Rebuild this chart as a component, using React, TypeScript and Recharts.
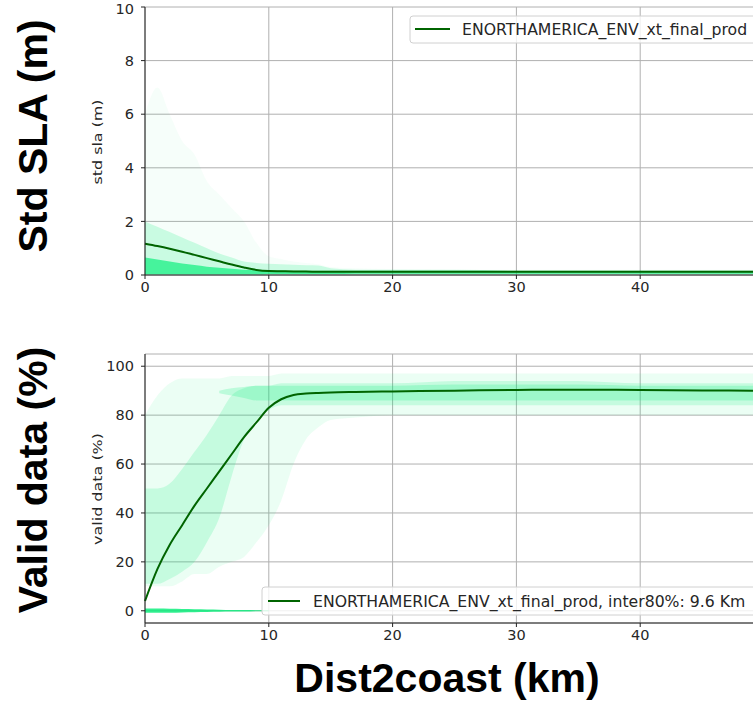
import { ComposedChart, Area, Line, XAxis, YAxis, CartesianGrid } from "recharts"

// distance to coast (km)
const dist = [0, 1, 2, 3, 4, 5, 6, 7, 8, 9, 10, 11, 12, 13, 14, 15, 17, 20, 25, 30, 35, 40, 45, 50]

// std sla (m)
const stdMean = [1.17, 1.08, 0.98, 0.87, 0.75, 0.63, 0.51, 0.39, 0.28, 0.19, 0.15, 0.14, 0.13, 0.13, 0.12, 0.12, 0.12, 0.12, 0.12, 0.12, 0.12, 0.12, 0.12, 0.12]
const stdCoreLow = [0.03, 0.03, 0.03, 0.03, 0.03, 0.03, 0.03, 0.03, 0.03, 0.03, 0.04, 0.04, 0.04, 0.04, 0.04, 0.04, 0.05, 0.05, 0.05, 0.05, 0.05, 0.05, 0.05, 0.05]
const stdCoreHigh = [0.65, 0.58, 0.5, 0.43, 0.37, 0.31, 0.27, 0.23, 0.2, 0.18, 0.17, 0.17, 0.16, 0.16, 0.16, 0.16, 0.16, 0.16, 0.16, 0.15, 0.15, 0.15, 0.15, 0.15]
const stdSpreadLow = [0, 0, 0, 0, 0, 0, 0, 0, 0, 0, 0.01, 0.01, 0.01, 0.01, 0.01, 0.02, 0.02, 0.02, 0.02, 0.02, 0.02, 0.02, 0.02, 0.02]
const stdSpreadHigh = [2.0, 1.8, 1.6, 1.4, 1.2, 1.0, 0.8, 0.65, 0.5, 0.45, 0.42, 0.4, 0.38, 0.36, 0.35, 0.25, 0.2, 0.2, 0.2, 0.18, 0.18, 0.18, 0.18, 0.18]
const stdOutlierHigh = [6, 7, 6, 5, 4.5, 3.5, 3, 2.5, 2, 1.2, 0.7, 0.6, 0.5, 0.45, 0.4, 0.3, 0.25, 0.22, 0.2, 0.2, 0.2, 0.2, 0.2, 0.2]

// valid data (%)
const validMean = [4, 17, 27, 35, 43, 50, 57, 64, 71, 77, 83, 86.5, 88.2, 88.8, 89.1, 89.3, 89.5, 89.7, 90, 90.3, 90.4, 90.3, 90.1, 90]
const validCoreLow = [11, 11, 13, 16, 20, 28, 38, 55, 70, 78, 82, 84, 84, 84, 84, 84, 84, 84, 84, 84, 84, 84, 84, 84]
const validCoreHigh = [50, 50, 52, 58, 65, 72, 80, 88, 91, 92, 92, 93, 93, 93, 93, 93, 93, 93, 94, 94, 94, 93, 93, 93]
const validDenseLow = [null, null, null, null, null, null, 89, 88, 87, 86, 86, 86, 86, 86, 86, 86, 86, 86, 86, 86, 86, 86, 86, 86]
const validDenseHigh = [null, null, null, null, null, null, 90, 91, 91.5, 92, 92, 92, 92, 92, 92, 92, 92, 92, 92.5, 92.5, 92.5, 92, 92, 92]
const validSpreadLow = [10, 10, 10, 12, 15, 15, 18, 20, 22, 28, 35, 45, 60, 70, 75, 78, 79, 80, 80, 80, 80, 80, 80, 80]
const validSpreadHigh = [80, 88, 93, 95, 95, 95, 95, 96, 96, 96, 96, 97, 97, 97, 97, 97, 97, 97, 97, 97, 97, 97, 97, 97]
const validZeroLow = [-0.8, -0.8, -0.8, -0.7, -0.6, -0.5, -0.4, -0.3, -0.3, -0.2, -0.2, null, null, null, null, null, null, null, null, null, null, null, null, null]
const validZeroHigh = [0.9, 0.9, 0.8, 0.7, 0.6, 0.5, 0.4, 0.3, 0.3, 0.2, 0.2, null, null, null, null, null, null, null, null, null, null, null, null, null]

const xTicks = [0, 10, 20, 30, 40]
const stdTicks = [0, 2, 4, 6, 8, 10]
const validTicks = [0, 20, 40, 60, 80, 100]

const legendTop = "ENORTHAMERICA_ENV_xt_final_prod"
const legendBottom = "ENORTHAMERICA_ENV_xt_final_prod, inter80%: 9.6 Km"

const pair = (lo: number | null, hi: number | null) => (lo == null || hi == null ? null : [lo, hi])

const topData = dist.map((x, i) => ({
  x,
  mean: stdMean[i],
  core: [stdCoreLow[i], stdCoreHigh[i]],
  spread: [stdSpreadLow[i], stdSpreadHigh[i]],
  outlier: [0, stdOutlierHigh[i]],
}))

const bottomData = dist.map((x, i) => ({
  x,
  mean: validMean[i],
  core: [validCoreLow[i], validCoreHigh[i]],
  dense: pair(validDenseLow[i], validDenseHigh[i]),
  spread: [validSpreadLow[i], validSpreadHigh[i]],
  zero: pair(validZeroLow[i], validZeroHigh[i]),
}))

const CLOUD = "#00ee76"
const LINE = "#006400"
const tickStyle = { fontSize: 14.5, fill: "#262626", fontFamily: "DejaVu Sans" }
const bold = { fontFamily: "Liberation Sans, Arial", fontWeight: 700, fontSize: 41, fill: "#000" }
const small = { fontFamily: "DejaVu Sans", fontSize: 13, fill: "#262626" }
const legendText = { fontFamily: "DejaVu Sans", fontSize: 15.7, fill: "#262626" }

export default function App() {
  return (
    <div style={{ position: "absolute", left: 0, top: 0, width: 753, height: 709, overflow: "hidden", background: "#fff" }}>
      <div style={{ position: "absolute", left: 0, top: 0 }}>
        <ComposedChart width={780} height={305} data={topData} margin={{ top: 7, right: 16, left: 0, bottom: 0 }}>
          <CartesianGrid stroke="#b0b0b0" />
          <XAxis dataKey="x" type="number" domain={[0, 50]} ticks={xTicks} tick={tickStyle} tickSize={4} tickMargin={3} height={30} stroke="#222" />
          <XAxis xAxisId="top" orientation="top" dataKey="x" type="number" domain={[0, 50]} tick={false} tickLine={false} height={0} stroke="#222" />
          <YAxis type="number" domain={[0, 10]} ticks={stdTicks} tick={tickStyle} tickSize={4} tickMargin={7} width={145} stroke="#222" />
          <Area dataKey="outlier" type="monotone" stroke="none" fill={CLOUD} fillOpacity={0.035} isAnimationActive={false} />
          <Area dataKey="spread" type="monotone" stroke="none" fill={CLOUD} fillOpacity={0.18} isAnimationActive={false} />
          <Area dataKey="core" type="monotone" stroke="none" fill={CLOUD} fillOpacity={0.65} isAnimationActive={false} />
          <Line dataKey="mean" type="monotone" stroke={LINE} strokeWidth={2} dot={false} isAnimationActive={false} />
        </ComposedChart>
      </div>
      <div style={{ position: "absolute", left: 0, top: 340 }}>
        <ComposedChart width={780} height={313} data={bottomData} margin={{ top: 14, right: 16, left: 0, bottom: 0 }}>
          <CartesianGrid stroke="#b0b0b0" />
          <XAxis dataKey="x" type="number" domain={[0, 50]} ticks={xTicks} tick={tickStyle} tickSize={4} tickMargin={3} height={30} stroke="#222" />
          <XAxis xAxisId="top" orientation="top" dataKey="x" type="number" domain={[0, 50]} tick={false} tickLine={false} height={0} stroke="#222" />
          <YAxis type="number" domain={[-5, 105]} ticks={validTicks} tick={tickStyle} tickSize={4} tickMargin={7} width={145} stroke="#222" />
          <Area dataKey="spread" type="monotone" stroke="none" fill={CLOUD} fillOpacity={0.08} isAnimationActive={false} />
          <Area dataKey="core" type="monotone" stroke="none" fill={CLOUD} fillOpacity={0.16} isAnimationActive={false} />
          <Area dataKey="dense" type="monotone" stroke="none" fill={CLOUD} fillOpacity={0.2} isAnimationActive={false} />
          <Area dataKey="zero" type="monotone" stroke="none" fill={CLOUD} fillOpacity={0.8} isAnimationActive={false} />
          <Line dataKey="mean" type="monotone" stroke={LINE} strokeWidth={2} dot={false} isAnimationActive={false} />
        </ComposedChart>
      </div>
      <svg width={753} height={709} style={{ position: "absolute", left: 0, top: 0, pointerEvents: "none" }}>
        <text transform="translate(47,136) rotate(-90)" textAnchor="middle" style={bold}>Std SLA (m)</text>
        <text transform="translate(47,480) rotate(-90)" textAnchor="middle" style={bold}>Valid data (%)</text>
        <text x={447} y={692} textAnchor="middle" style={bold}>Dist2coast (km)</text>
        <text transform="translate(102,142) rotate(-90)" textAnchor="middle" textLength={85} lengthAdjust="spacingAndGlyphs" style={small}>std sla (m)</text>
        <text transform="translate(102,489) rotate(-90)" textAnchor="middle" textLength={112} lengthAdjust="spacingAndGlyphs" style={small}>valid data (%)</text>
        <g>
          <rect x={410} y={16} width={360} height={27} rx={3} fill="#fff" fillOpacity={0.8} stroke="#d0d0d0" />
          <line x1={415} x2={450} y1={29} y2={29} stroke={LINE} strokeWidth={2} />
          <text x={462} y={34.5} style={legendText}>{legendTop}</text>
        </g>
        <g>
          <rect x={262} y={587} width={510} height={28} rx={3} fill="#fff" fillOpacity={0.8} stroke="#d0d0d0" />
          <line x1={268} x2={300} y1={601} y2={601} stroke={LINE} strokeWidth={2} />
          <text x={313} y={606.5} style={legendText}>{legendBottom}</text>
        </g>
      </svg>
    </div>
  )
}
